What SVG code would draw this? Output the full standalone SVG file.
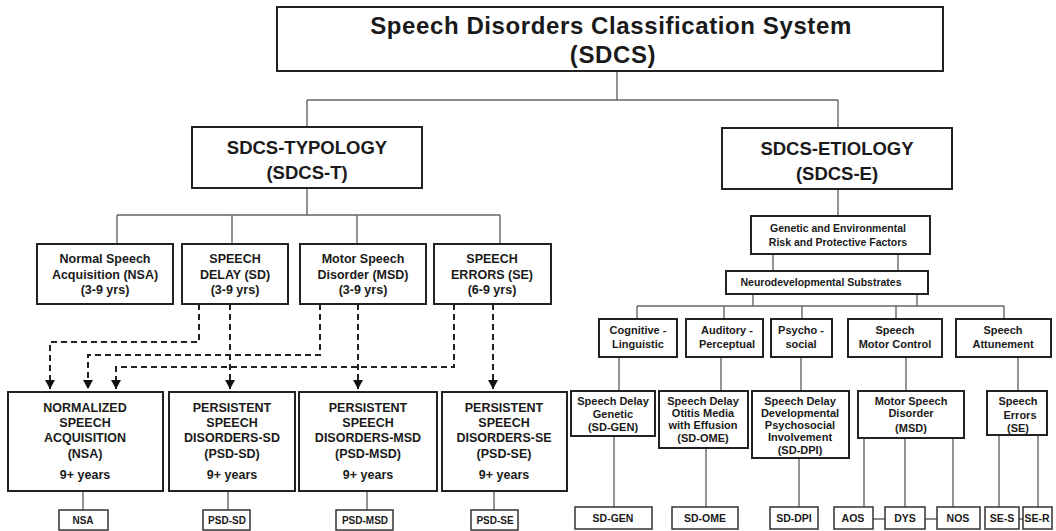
<svg xmlns="http://www.w3.org/2000/svg" width="1056" height="531" viewBox="0 0 1056 531">
<style>
.box{fill:#fff;stroke:#222;stroke-width:2}
.cbox{fill:#fff;stroke:#333;stroke-width:1.5}
.con{fill:none;stroke:#666;stroke-width:1.4}
.dash{fill:none;stroke:#222;stroke-width:2;stroke-dasharray:6 4}
text{font-family:"Liberation Sans",Arial,sans-serif;font-weight:bold;fill:#1a1a1a;text-anchor:middle}
.t1{font-size:24px;letter-spacing:0.6px}
.t2{font-size:18.5px}
.t3{font-size:12.5px}
.t4{font-size:12.5px}
.t5{font-size:10px}
.r1{font-size:10.5px}
.r2{font-size:11px}
.r3{font-size:10.5px}
</style>
<defs>
<marker id="ah" markerUnits="userSpaceOnUse" markerWidth="10" markerHeight="10" refX="9" refY="5" orient="auto">
<path d="M0,0 L9,5 L0,10 Z" fill="#111"/>
</marker>
</defs>
<rect width="1056" height="531" fill="#fff"/>
<g id="connectors">
<path class="con" d="M617 71V100M307 100H838M307 100V127M838 100V128"/>
<path class="con" d="M307 188V215M117 215H500M117 215V244M232 215V244M357 215V244M500 215V244"/>
<path class="dash" marker-end="url(#ah)" d="M199 304V342H50V389"/>
<path class="dash" marker-end="url(#ah)" d="M230 304V389"/>
<path class="dash" marker-end="url(#ah)" d="M320 304V355H88V389"/>
<path class="dash" marker-end="url(#ah)" d="M358 304V389"/>
<path class="dash" marker-end="url(#ah)" d="M454 304V367H116V389"/>
<path class="dash" marker-end="url(#ah)" d="M493 304V389"/>
<path class="con" d="M83 491V510M228 491V510M367 491V510M494 491V510"/>
<path class="con" d="M838 189V216M773 254V271M898 254V271M753 294V306M917 294V306M637 306H1004M637 306V319M724 306V319M802 306V319M896 306V319M1004 306V319"/>
<path class="con" d="M619 357V391M721 357V391M801 357V391M906 357V391M1018 357V391"/>
<path class="con" d="M614 436V507M706 448V507M799 458V507M864 438V507M905 438V507M953 438V507M999 435V507M1038 435V507M873 519H885M925 519H937M1019 519H1023"/>
</g>
<g id="title"><rect class="box" x="277" y="7" width="666" height="64"/><text class="t1" x="611" y="34">Speech Disorders Classification System</text><text class="t1" x="613" y="63">(SDCS)</text></g>
<g id="sdcs-t"><rect class="box" x="192" y="127" width="230" height="61"/><text class="t2" x="307" y="154">SDCS-TYPOLOGY</text><text class="t2" x="307" y="179">(SDCS-T)</text></g>
<g id="sdcs-e"><rect class="box" x="722" y="128" width="230" height="61"/><text class="t2" x="837" y="155">SDCS-ETIOLOGY</text><text class="t2" x="837" y="180">(SDCS-E)</text></g>
<g id="nsa"><rect class="box" x="37" y="244" width="136" height="60"/><text class="t3" x="105" y="263">Normal Speech</text><text class="t3" x="105" y="279">Acquisition (NSA)</text><text class="t3" x="105" y="294">(3-9 yrs)</text></g>
<g id="sd"><rect class="box" x="182" y="244" width="106" height="60"/><text class="t3" x="235" y="263">SPEECH</text><text class="t3" x="235" y="279">DELAY (SD)</text><text class="t3" x="235" y="294">(3-9 yrs)</text></g>
<g id="msd"><rect class="box" x="300" y="244" width="126" height="60"/><text class="t3" x="363" y="263">Motor Speech</text><text class="t3" x="363" y="279">Disorder (MSD)</text><text class="t3" x="363" y="294">(3-9 yrs)</text></g>
<g id="se"><rect class="box" x="434" y="244" width="117" height="60"/><text class="t3" x="492" y="263">SPEECH</text><text class="t3" x="492" y="279">ERRORS (SE)</text><text class="t3" x="492" y="294">(6-9 yrs)</text></g>
<g id="nsa9"><rect class="box" x="8" y="392" width="155" height="99"/><text class="t4" x="85" y="412">NORMALIZED</text><text class="t4" x="85" y="427">SPEECH</text><text class="t4" x="85" y="442">ACQUISITION</text><text class="t4" x="85" y="458">(NSA)</text><text class="t4" x="85" y="479">9+ years</text></g>
<g id="psd-sd"><rect class="box" x="169" y="392" width="126" height="99"/><text class="t4" x="232" y="412">PERSISTENT</text><text class="t4" x="232" y="427">SPEECH</text><text class="t4" x="232" y="442">DISORDERS-SD</text><text class="t4" x="232" y="458">(PSD-SD)</text><text class="t4" x="232" y="479">9+ years</text></g>
<g id="psd-msd"><rect class="box" x="299" y="392" width="138" height="99"/><text class="t4" x="368" y="412">PERSISTENT</text><text class="t4" x="368" y="427">SPEECH</text><text class="t4" x="368" y="442">DISORDERS-MSD</text><text class="t4" x="368" y="458">(PSD-MSD)</text><text class="t4" x="368" y="479">9+ years</text></g>
<g id="psd-se"><rect class="box" x="442" y="392" width="125" height="99"/><text class="t4" x="504" y="412">PERSISTENT</text><text class="t4" x="504" y="427">SPEECH</text><text class="t4" x="504" y="442">DISORDERS-SE</text><text class="t4" x="504" y="458">(PSD-SE)</text><text class="t4" x="504" y="479">9+ years</text></g>
<g id="c-nsa"><rect class="cbox" x="59" y="510" width="49" height="20"/><text class="t5" x="83" y="524">NSA</text></g>
<g id="c-psd-sd"><rect class="cbox" x="203" y="510" width="47" height="20"/><text class="t5" x="227" y="524">PSD-SD</text></g>
<g id="c-psd-msd"><rect class="cbox" x="336" y="510" width="57" height="20"/><text class="t5" x="365" y="524">PSD-MSD</text></g>
<g id="c-psd-se"><rect class="cbox" x="471" y="510" width="47" height="20"/><text class="t5" x="495" y="524">PSD-SE</text></g>
<g id="genetic"><rect class="box" x="751" y="216" width="179" height="38"/><text class="r1" x="838" y="232">Genetic and Environmental</text><text class="r1" x="838" y="246">Risk and Protective Factors</text></g>
<g id="neuro"><rect class="box" x="726" y="271" width="202" height="23"/><text class="r1" x="821" y="286">Neurodevelopmental Substrates</text></g>
<g id="cog"><rect class="box" x="599" y="319" width="78" height="38"/><text class="r2" x="638" y="334">Cognitive -</text><text class="r2" x="638" y="348">Linguistic</text></g>
<g id="aud"><rect class="box" x="686" y="319" width="77" height="38"/><text class="r2" x="727" y="334">Auditory -</text><text class="r2" x="727" y="348">Perceptual</text></g>
<g id="psy"><rect class="box" x="771" y="319" width="61" height="38"/><text class="r2" x="801" y="334">Psycho -</text><text class="r2" x="801" y="348">social</text></g>
<g id="smc"><rect class="box" x="848" y="319" width="94" height="38"/><text class="r2" x="895" y="334">Speech</text><text class="r2" x="895" y="348">Motor Control</text></g>
<g id="att"><rect class="box" x="956" y="319" width="95" height="38"/><text class="r2" x="1003" y="334">Speech</text><text class="r2" x="1003" y="348">Attunement</text></g>
<g id="sdgen"><rect class="box" x="571" y="391" width="84" height="45"/><text class="r2" x="613" y="405">Speech Delay</text><text class="r2" x="613" y="418">Genetic</text><text class="r2" x="613" y="431">(SD-GEN)</text></g>
<g id="sdome"><rect class="box" x="659" y="391" width="89" height="57"/><text class="r2" x="703" y="405">Speech Delay</text><text class="r2" x="703" y="417">Otitis Media</text><text class="r2" x="703" y="429">with Effusion</text><text class="r2" x="703" y="442">(SD-OME)</text></g>
<g id="sddpi"><rect class="box" x="752" y="391" width="97" height="67"/><text class="r2" x="800" y="405">Speech Delay</text><text class="r2" x="800" y="417">Developmental</text><text class="r2" x="800" y="429">Psychosocial</text><text class="r2" x="800" y="441">Involvement</text><text class="r2" x="800" y="454">(SD-DPI)</text></g>
<g id="msd-e"><rect class="box" x="858" y="391" width="106" height="47"/><text class="r2" x="911" y="405">Motor Speech</text><text class="r2" x="911" y="417">Disorder</text><text class="r2" x="911" y="432">(MSD)</text></g>
<g id="se-e"><rect class="box" x="987" y="391" width="60" height="44"/><text class="r2" x="1018" y="405">Speech</text><text class="r2" x="1020" y="419">Errors</text><text class="r2" x="1018" y="432">(SE)</text></g>
<g id="c-sdgen"><rect class="cbox" x="575" y="507" width="77" height="22"/><text class="r3" x="613" y="522">SD-GEN</text></g>
<g id="c-sdome"><rect class="cbox" x="672" y="507" width="66" height="22"/><text class="r3" x="705" y="522">SD-OME</text></g>
<g id="c-sddpi"><rect class="cbox" x="770" y="507" width="48" height="22"/><text class="r3" x="794" y="522">SD-DPI</text></g>
<g id="c-aos"><rect class="cbox" x="834" y="507" width="39" height="22"/><text class="r3" x="853" y="522">AOS</text></g>
<g id="c-dys"><rect class="cbox" x="885" y="507" width="40" height="22"/><text class="r3" x="905" y="522">DYS</text></g>
<g id="c-nos"><rect class="cbox" x="937" y="507" width="43" height="22"/><text class="r3" x="958" y="522">NOS</text></g>
<g id="c-ses"><rect class="cbox" x="985" y="507" width="34" height="22"/><text class="r3" x="1002" y="522">SE-S</text></g>
<g id="c-ser"><rect class="cbox" x="1023" y="507" width="29" height="22"/><text class="r3" x="1037" y="522">SE-R</text></g>
</svg>
